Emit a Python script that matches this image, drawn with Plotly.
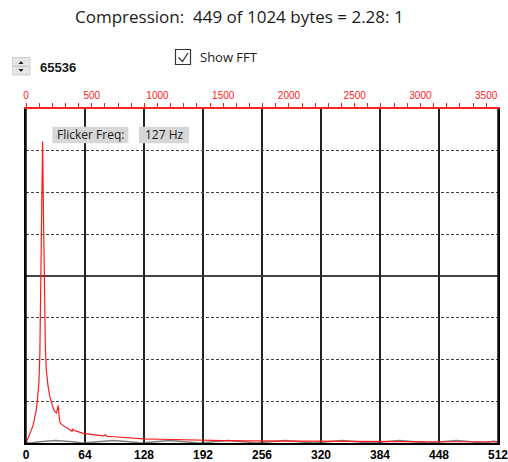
import plotly.graph_objects as go

W, H = 508, 462

# ---- data ----
fft_bins = [0, 2, 4, 6, 8, 10, 11, 12, 13, 14, 15, 16, 17, 18, 19, 20, 21, 22, 23, 24,
            26, 28, 30, 32, 33, 34, 35, 36, 37, 39, 42, 45, 48, 50, 51, 52, 54, 58, 62,
            66, 72, 78, 84, 86, 88, 95, 105, 115, 128, 145, 160, 175, 192, 215, 240, 256,
            290, 320, 352, 384, 416, 448, 480, 512]
fft_vals = [0.0, 0.1, 0.22, 0.32, 0.45, 0.65, 0.78, 0.95, 1.15, 1.45, 2.1, 3.8, 6.7, 7.22,
            5.4, 3.3, 2.3, 1.75, 1.5, 1.35, 1.1, 0.92, 0.8, 0.74, 0.72, 0.8, 0.9, 0.62, 0.48,
            0.44, 0.4, 0.36, 0.32, 0.28, 0.33, 0.3, 0.29, 0.26, 0.23, 0.22, 0.2, 0.19, 0.17,
            0.2, 0.16, 0.15, 0.13, 0.12, 0.1, 0.09, 0.08, 0.07, 0.06, 0.055, 0.05, 0.05,
            0.045, 0.04, 0.04, 0.035, 0.035, 0.03, 0.03, 0.03]

sig_bins = [0, 5, 15, 32, 50, 62, 78, 95, 112, 125, 140, 156, 172, 188, 203, 219, 235, 250,
            265, 281, 297, 312, 327, 343, 359, 374, 389, 405, 421, 436, 451, 467, 483, 498,
            507, 512]
sig_vals = [0.01, 0.0, 0.03, 0.06, 0.03, 0.0, 0.03, 0.06, 0.03, 0.0, 0.03, 0.06, 0.03, 0.0,
            0.03, 0.06, 0.03, 0.0, 0.03, 0.06, 0.03, 0.0, 0.03, 0.06, 0.03, 0.0, 0.03, 0.06,
            0.03, 0.0, 0.03, 0.06, 0.03, 0.0, 0.04, 0.02]

bin_ticks = [0, 64, 128, 192, 256, 320, 384, 448, 512]
hz_ticks = [0, 500, 1000, 1500, 2000, 2500, 3000, 3500]
nyquist_hz = 3590

title_text = "Compression:\u00a0 449 of 1024 bytes = 2.28: 1"
spin_text = "65536"
check_text = "Show FFT"
flicker_label = "Flicker Freq:"
flicker_value = "127 Hz"

# ---- pixel helpers (margins are zero, so paper == pixels) ----
def px(x):
    return x / W

def py(y):
    return 1 - y / H

PLOT_L, PLOT_R, PLOT_T, PLOT_B = 26, 498, 109, 443

fig = go.Figure()
fig.add_trace(go.Scatter(x=sig_bins, y=sig_vals, mode="lines",
                         line=dict(color="rgba(70,70,70,0.7)", width=1.6),
                         hoverinfo="skip", showlegend=False))
fig.add_trace(go.Scatter(x=fft_bins, y=fft_vals, mode="lines",
                         line=dict(color="#ff1a1a", width=1.2),
                         showlegend=False))
# invisible trace to carry the top frequency axis
fig.add_trace(go.Scatter(x=[0, nyquist_hz], y=[0, 0], xaxis="x2", mode="markers",
                         marker=dict(size=1, opacity=0), hoverinfo="skip", showlegend=False))

fig.update_layout(
    width=W, height=H, autosize=False,
    margin=dict(l=0, r=0, t=0, b=0),
    paper_bgcolor="white", plot_bgcolor="white",
    xaxis=dict(domain=[px(PLOT_L), px(PLOT_R)], range=[0, 512],
               tickvals=bin_ticks, ticktext=[str(v) for v in bin_ticks],
               tickfont=dict(family="Arial", size=12, color="black", weight="bold"),
               ticks="", showgrid=True, gridcolor="#222222", gridwidth=1.5,
               showline=True, linecolor="black", linewidth=1.5,
               ticklabeloverflow="allow",
               zeroline=False, fixedrange=True, automargin=False),
    xaxis2=dict(overlaying="x", side="top", anchor="y", range=[0, nyquist_hz],
                tickvals=hz_ticks, ticktext=[str(v) for v in hz_ticks],
                tickfont=dict(family="Arial", size=10, color="#ff2020"),
                ticks="outside", ticklen=4, tickcolor="#ff2020", tickwidth=1,
                minor=dict(dtick=100, ticks="outside", ticklen=4, tickcolor="#ff2020",
                           tickwidth=1, showgrid=False),
                showgrid=False, showline=True, linecolor="#ff2020", linewidth=1.5,
                ticklabeloverflow="allow",
                zeroline=False, fixedrange=True, automargin=False),
    yaxis=dict(domain=[py(PLOT_B), py(PLOT_T)], range=[0, 8], dtick=1,
               showticklabels=False, ticks="",
               showgrid=True, gridcolor="#444444", gridwidth=1.2, griddash="3px,2px",
               showline=True, linecolor="black", linewidth=1.5, mirror=True,
               zeroline=False, fixedrange=True, automargin=False),
)

shapes = []
# solid middle horizontal line
shapes.append(dict(type="line", xref="paper", yref="y", x0=px(PLOT_L), x1=px(PLOT_R),
                   y0=4, y1=4, line=dict(color="#444444", width=2), layer="below"))
# left / right frame
for xx in (PLOT_L, PLOT_R):
    shapes.append(dict(type="line", xref="paper", yref="paper", x0=px(xx), x1=px(xx),
                       y0=py(PLOT_B), y1=py(PLOT_T), line=dict(color="#111111", width=1.5)))
# flicker label boxes
shapes.append(dict(type="rect", xref="paper", yref="paper", x0=px(52.3), x1=px(128.3),
                   y0=py(143.3), y1=py(126.7), fillcolor="#d7d7d7", line=dict(width=0)))
shapes.append(dict(type="rect", xref="paper", yref="paper", x0=px(139), x1=px(189),
                   y0=py(143.3), y1=py(126.7), fillcolor="#d7d7d7", line=dict(width=0)))
# checkbox
shapes.append(dict(type="rect", xref="paper", yref="paper", x0=px(175.5), x1=px(190.5),
                   y0=py(64.5), y1=py(49.5), fillcolor="white",
                   line=dict(color="#333333", width=1.2)))
shapes.append(dict(type="path", xref="paper", yref="paper",
                   path=f"M {px(178.5)} {py(57.5)} L {px(182.5)} {py(61.5)} L {px(188)} {py(53)}",
                   line=dict(color="#333333", width=1.3)))
# spinner
shapes.append(dict(type="rect", xref="paper", yref="paper", x0=px(12.5), x1=px(30),
                   y0=py(75), y1=py(57.5), fillcolor="#e6e6e6",
                   line=dict(color="#cfcfcf", width=1)))
shapes.append(dict(type="line", xref="paper", yref="paper", x0=px(13.5), x1=px(29),
                   y0=py(66.3), y1=py(66.3), line=dict(color="#bdbdbd", width=1)))
shapes.append(dict(type="path", xref="paper", yref="paper",
                   path=f"M {px(18.5)} {py(64)} L {px(23.5)} {py(64)} L {px(21)} {py(61)} Z",
                   fillcolor="#222222", line=dict(width=0)))
shapes.append(dict(type="path", xref="paper", yref="paper",
                   path=f"M {px(18.5)} {py(69)} L {px(23.5)} {py(69)} L {px(21)} {py(72)} Z",
                   fillcolor="#222222", line=dict(width=0)))
fig.update_layout(shapes=shapes)

def ann(text, x, y, size, family="Open Sans", color="#1a1a1a", xanchor="center", bold=False):
    return dict(text=text, x=px(x), y=py(y), xref="paper", yref="paper",
                xanchor=xanchor, yanchor="middle", showarrow=False,
                font=dict(family=family, size=size, color=color,
                          weight="bold" if bold else "normal"))

fig.update_layout(annotations=[
    ann(title_text, 239, 16, 17),
    ann(check_text, 198, 57, 13, xanchor="left"),
    ann(spin_text, 37.5, 67.5, 13, family="Arial", xanchor="left", bold=True),
    ann(flicker_label, 90.3, 135, 12),
    ann(flicker_value, 164, 135, 12),
])

fig.write_html("out.html", config={"displayModeBar": False},
               post_script="document.body.style.margin='0px';document.body.style.padding='0px';")
